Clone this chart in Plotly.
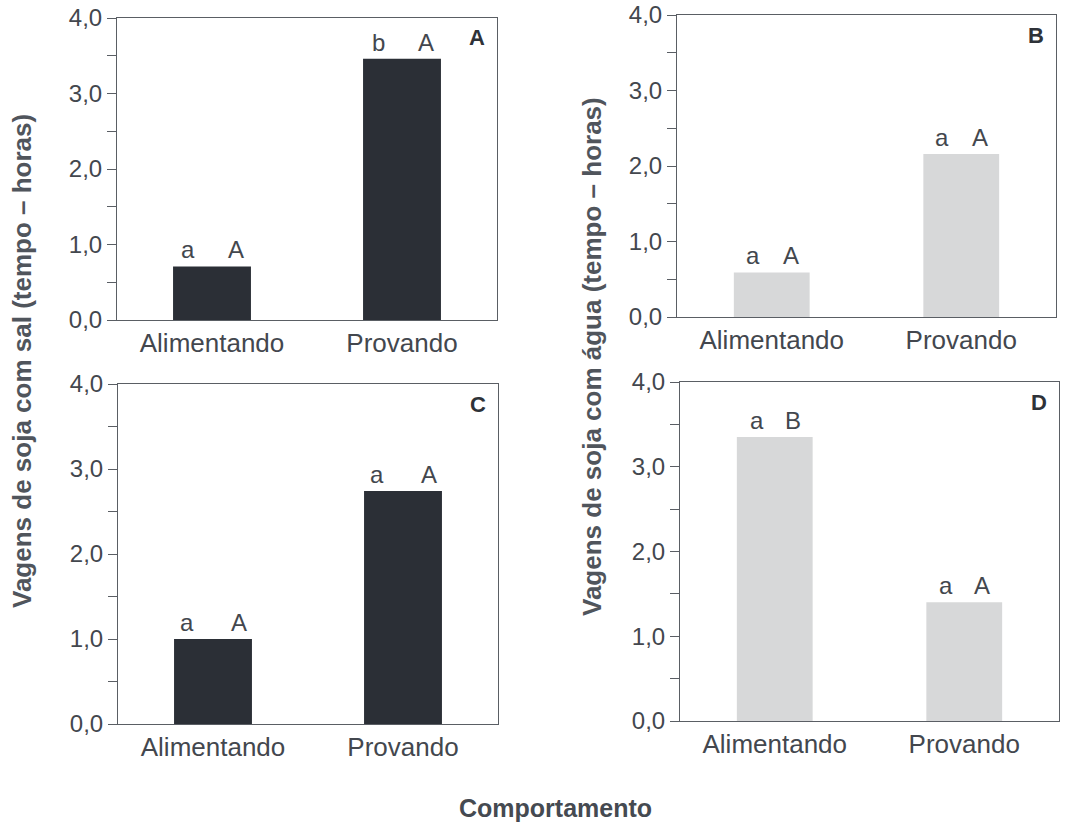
import plotly.graph_objects as go

categories = ["Alimentando", "Provando"]
panel_names = ["A", "B", "C", "D"]
values_A = [0.71, 3.46]   # vagens com sal
values_B = [0.59, 2.16]   # vagens com água
values_C = [1.00, 2.74]   # vagens com sal
values_D = [3.35, 1.40]   # vagens com água
letters_A = [("a", "A"), ("b", "A")]
letters_B = [("a", "A"), ("a", "A")]
letters_C = [("a", "A"), ("a", "A")]
letters_D = [("a", "B"), ("a", "A")]
y_tickvals = [0, 0.5, 1, 1.5, 2, 2.5, 3, 3.5, 4]
y_ticktext = ["0,0", "", "1,0", "", "2,0", "", "3,0", "", "4,0"]
ytitle_left = "Vagens de soja com sal (tempo – horas)"
ytitle_right = "Vagens de soja com água (tempo – horas)"
xtitle = "Comportamento"

W, H = 1074, 824
DARK = "#2b2f36"
LIGHT = "#d7d8d9"
TXT = "#43474e"
LINE = "#5a5e64"
FONT = "Liberation Sans, Arial, sans-serif"

# pixel boxes: (left, right, top, bottom)
boxes = [(117, 497, 18, 320), (677, 1056, 15, 317),
         (118, 498, 384, 724), (680, 1059, 382, 721)]
colors = [DARK, LIGHT, DARK, LIGHT]
values = [values_A, values_B, values_C, values_D]
letters = [letters_A, letters_B, letters_C, letters_D]
offsets = [24, 19, 26, 18]
widths = [0.41, 0.40, 0.41, 0.40]

fig = go.Figure()
annotations = []
layout = {}
for i in range(4):
    l, r, t, b = boxes[i]
    sfx = "" if i == 0 else str(i + 1)
    xa, ya = "x" + sfx, "y" + sfx
    fig.add_trace(go.Bar(x=categories, y=values[i], xaxis=xa, yaxis=ya,
                         marker=dict(color=colors[i], line=dict(width=0)),
                         width=widths[i], showlegend=False))
    layout["xaxis" + sfx] = dict(
        domain=[l / W, r / W], anchor=ya, showline=True, mirror=True,
        linecolor=LINE, linewidth=1, ticks="", showgrid=False,
        automargin=False, ticklabelstandoff=0,
        tickfont=dict(size=26, color=TXT, family=FONT), fixedrange=True)
    layout["yaxis" + sfx] = dict(
        domain=[1 - b / H, 1 - t / H], anchor=xa, range=[0, 4],
        showline=True, mirror=True, linecolor=LINE, linewidth=1,
        ticks="outside", ticklen=9, tickwidth=1, tickcolor=LINE,
        tickvals=y_tickvals, ticktext=y_ticktext, showgrid=False,
        automargin=False, zeroline=False,
        tickfont=dict(size=24, color=TXT, family=FONT))
    for j, cat in enumerate(categories):
        lo, up = letters[i][j]
        for txt, sh in ((lo, -offsets[i]), (up, offsets[i])):
            annotations.append(dict(
                x=cat, y=values[i][j], xref=xa, yref=ya, text=txt,
                showarrow=False, xanchor="center", yanchor="bottom",
                xshift=sh, yshift=1,
                font=dict(size=24, color=TXT, family=FONT)))
    annotations.append(dict(
        x=(r - 20) / W, y=1 - (t + 20) / H, xref="paper", yref="paper",
        text="<b>" + panel_names[i] + "</b>", showarrow=False,
        xanchor="center", yanchor="middle",
        font=dict(size=22, color="#2e3238", family=FONT)))

annotations.append(dict(x=22 / W, y=1 - 361 / H, xref="paper", yref="paper",
                        text="<b>" + ytitle_left + "</b>", textangle=-90,
                        showarrow=False, xanchor="center", yanchor="middle",
                        font=dict(size=26, color="#50555c", family=FONT)))
annotations.append(dict(x=592 / W, y=1 - 357 / H, xref="paper", yref="paper",
                        text="<b>" + ytitle_right + "</b>", textangle=-90,
                        showarrow=False, xanchor="center", yanchor="middle",
                        font=dict(size=26, color="#50555c", family=FONT)))
annotations.append(dict(x=555 / W, y=1 - 808 / H, xref="paper", yref="paper",
                        text="<b>" + xtitle + "</b>", showarrow=False,
                        xanchor="center", yanchor="middle",
                        font=dict(size=25, color="#454a51", family=FONT)))

fig.update_layout(width=W, height=H, margin=dict(l=0, r=0, t=0, b=0),
                  paper_bgcolor="white", plot_bgcolor="white",
                  annotations=annotations, bargap=0.2, **layout)
fig.write_html("out.html", config={"displayModeBar": False},
               post_script="document.body.style.margin='0';"
                           "document.body.style.overflow='hidden';")
